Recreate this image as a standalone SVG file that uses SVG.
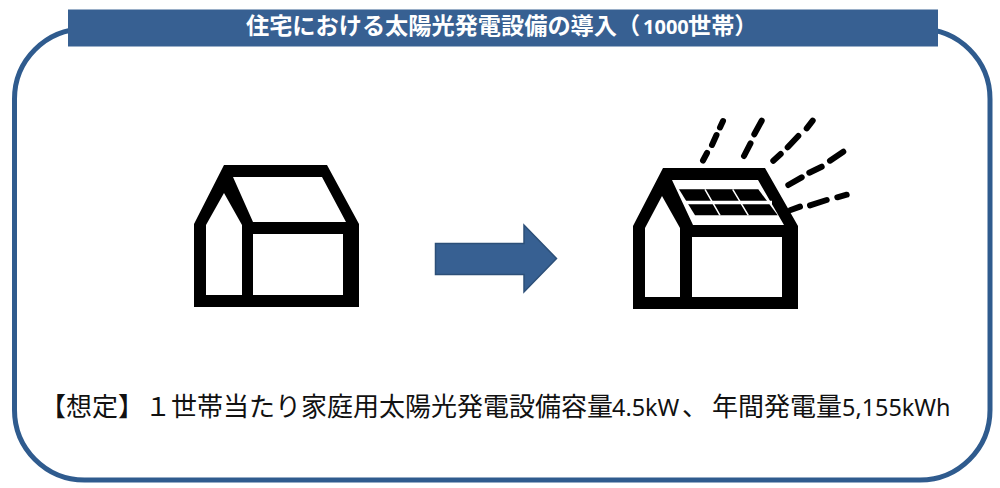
<svg xmlns="http://www.w3.org/2000/svg" width="1000" height="488" viewBox="0 0 1000 488">
<style>
.jp{font-family:"Noto Sans CJK JP","Noto Sans",sans-serif}
.lat{font-family:"Noto Sans","Open Sans",sans-serif}
.title{font-size:23.2px;font-weight:700;fill:#fff}
.title-num{font-size:20px;font-weight:700;fill:#fff}
.body{font-size:26px;fill:#111}
.body-num{font-size:23.400px;fill:#111}
.ray{stroke:#000;stroke-width:6;stroke-linecap:round;fill:none}
.house{fill:#000;fill-rule:evenodd}
.grid{stroke:#fff;fill:none}
</style>
<rect width="1000" height="488" fill="#fff"/>
<g id="frame"><rect x="14.500" y="29" width="975.500" height="451" rx="70" ry="70" fill="#fff" stroke="#2f5b8e" stroke-width="5"/></g>
<g id="title">
<rect x="68" y="9.500" width="870" height="37" fill="#376092"/>
<text class="jp title" x="246" y="34">住宅における太陽光発電設備の導入（</text>
<text class="lat title-num" x="643" y="34">1000</text>
<text class="jp title" x="688" y="34">世帯）</text>
</g>
<g id="house-before">
<path class="house" d="M224 165H327L359 224V307H194V224ZM224 193L206 225V295H242V225ZM233 177L253 222H346L322 177ZM253 234V295H343V234Z"/>
</g>
<g id="connectors">
<path d="M435.500 243.500H524V225L556.500 258.500L524 292V274.500H435.500Z" fill="#376092" stroke="#2c4f78" stroke-width="1.500"/>
</g>
<g id="house-after">
<path class="house" d="M663 168H765L798 226V309H633V226ZM662 196L645 228V297H680V228ZM672 180L693 225H784L758 180ZM692 237V297H782V237Z"/>
<path d="M679 189.300H758.300L777.700 215.300H695Z" fill="#000"/>
<path class="grid" stroke-width="3.500" d="M684 202.500H772"/>
<path class="grid" stroke-width="1.500" d="M705 189.300L720 215.300M732.700 189.300L748.300 215.300"/>
<g id="sun-rays">
<path class="ray" d="M703 160.500L707 153M712 145L716.500 135M720 127.500L723 121"/>
<path class="ray" d="M744 156L750.500 143.300M754.300 134.300L761.700 120.700"/>
<path class="ray" d="M773.300 160.700L780.700 154M787.700 147.300L798.300 136M806.700 128.300L812.700 120.700"/>
<path class="ray" d="M788.300 185L801.700 177.300M809.300 172.700L821.700 166.700M830 160.700L843.300 151.700"/>
<path class="ray" d="M790.700 210L800 206.700M810 205.300L826.700 200M837.300 197.300L846.700 194.700"/>
</g>
</g>
<g id="note">
<text class="jp body" x="40" y="416">【</text>
<text class="jp body" x="66" y="416">想定</text>
<text class="jp body" x="118" y="416">】</text>
<text class="jp body" x="145" y="416">１世帯当たり家庭用太陽光発電設備容量</text>
<text class="lat body-num" x="612" y="416">4.5kW</text>
<text class="jp body" x="682" y="416">、</text>
<text class="jp body" x="712" y="416">年間発電量</text>
<text class="lat body-num" x="842" y="416">5,155kWh</text>
</g>
</svg>
